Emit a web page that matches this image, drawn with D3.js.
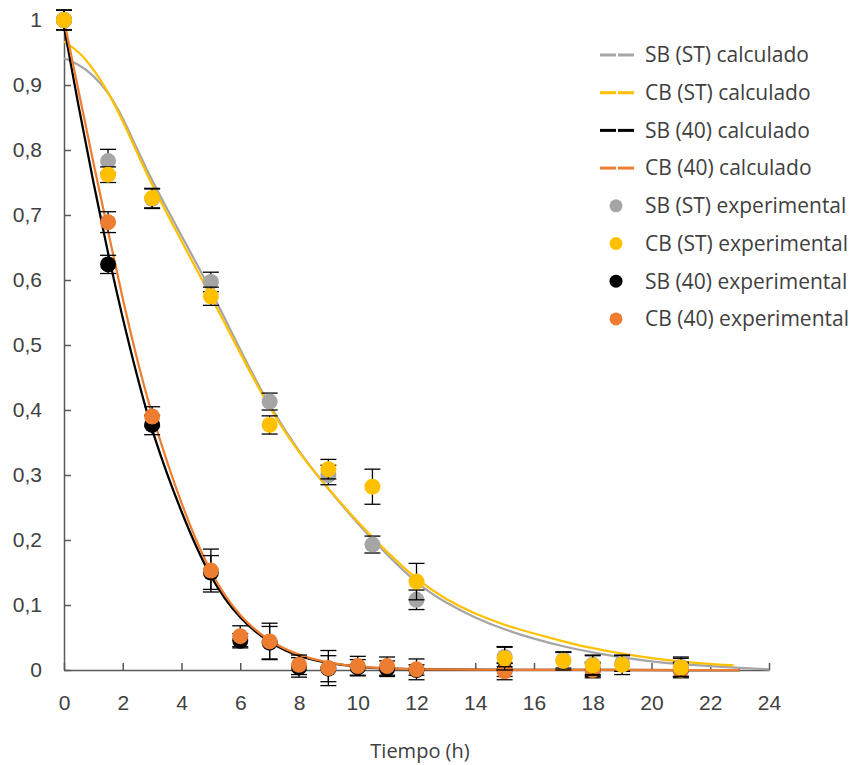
<!DOCTYPE html>
<html>
<head>
<meta charset="utf-8">
<script src="https://cdn.jsdelivr.net/npm/d3@7"></script>
<style>
  body { margin: 0; background: #fff; }
  svg { font-family: "Open Sans", Lato, sans-serif; }
  .axis path, .axis line { stroke: #595959; stroke-width: 1.5; }
  .axis text { fill: #404040; font-size: 21px; }
  .legend text { fill: #404040; font-size: 21px; }
</style>
</head>
<body>
<div id="chart"></div>
<script>

// experimental times (h)
const tST = [0, 1.5, 3, 5, 7, 9, 10.5, 12, 15, 17, 18, 19, 21];
const t40 = [0, 1.5, 3, 5, 6, 7, 8, 9, 10, 11, 12, 15, 18, 21];

// experimental values and error bars
const sbST = [1.0, 0.783, 0.725, 0.597, 0.413, 0.30, 0.193, 0.108, 0.02, 0.015, 0.008, 0.01, 0.005];
const sbSTErr = [0.015, 0.018, 0.015, 0.015, 0.013, 0.015, 0.013, 0.015, 0.015, 0.012, 0.015, 0.012, 0.015];
const cbST = [1.0, 0.762, 0.726, 0.575, 0.377, 0.309, 0.282, 0.136, 0.018, 0.014, 0.007, 0.008, 0.004];
const cbSTErr = [0.015, 0.012, 0.015, 0.014, 0.014, 0.015, 0.027, 0.028, 0.018, 0.014, 0.015, 0.015, 0.014];
const sb40 = [1.0, 0.624, 0.377, 0.15, 0.045, 0.042, 0.004, 0.002, 0.004, 0.002, 0.0, 0.0, 0.0, 0.0];
const sb40Err = [0.015, 0.014, 0.015, 0.026, 0.011, 0.025, 0.015, 0.02, 0.012, 0.012, 0.008, 0.01, 0.01, 0.01];
const cb40 = [1.0, 0.689, 0.39, 0.153, 0.052, 0.044, 0.008, 0.003, 0.006, 0.006, 0.001, -0.002, 0.0, 0.0];
const cb40Err = [0.015, 0.016, 0.015, 0.033, 0.016, 0.028, 0.015, 0.027, 0.015, 0.014, 0.016, 0.013, 0.012, 0.012];

// calculated curves
const tCalcSB = [0, 0.5, 1, 1.5, 2, 2.5, 3, 4, 5, 6, 7, 8, 9, 10, 11, 12, 13, 14, 15, 16, 17, 18, 19, 20, 21, 22, 23, 24];
const sbSTCalc = [0.941, 0.932, 0.915, 0.89, 0.85, 0.80, 0.752, 0.668, 0.585, 0.492, 0.405, 0.335, 0.278, 0.225, 0.177, 0.133, 0.103, 0.08, 0.062, 0.048, 0.036, 0.027, 0.019, 0.013, 0.009, 0.006, 0.003, 0.001];
const tCalcCB = [0, 0.5, 1, 1.5, 2, 2.5, 3, 4, 5, 6, 7, 8, 9, 10, 11, 12, 13, 14, 15, 16, 17, 18, 19, 20, 21, 22, 22.8];
const cbSTCalc = [0.967, 0.952, 0.925, 0.89, 0.845, 0.795, 0.745, 0.66, 0.575, 0.487, 0.402, 0.333, 0.279, 0.227, 0.181, 0.139, 0.108, 0.086, 0.069, 0.056, 0.044, 0.033, 0.025, 0.018, 0.013, 0.009, 0.007];
const tCalc40 = [0, 0.5, 1, 1.5, 2, 2.5, 3, 4, 5, 6, 7, 8, 9, 10, 11, 12, 14, 23];
const sb40Calc = [0.99, 0.865, 0.75, 0.64, 0.54, 0.45, 0.365, 0.24, 0.138, 0.077, 0.041, 0.02, 0.01, 0.005, 0.002, 0.001, 0, 0];
const cb40Calc = [1.0, 0.89, 0.78, 0.675, 0.57, 0.475, 0.39, 0.252, 0.145, 0.08, 0.043, 0.022, 0.011, 0.005, 0.002, 0.001, 0, 0];

const xTicks = d3.range(0, 25, 2);
const yTicks = d3.range(0, 1.01, 0.1);

const legendLabels = ['SB (ST) calculado', 'CB (ST) calculado', 'SB (40) calculado', 'CB (40) calculado',
  'SB (ST) experimental', 'CB (ST) experimental', 'SB (40) experimental', 'CB (40) experimental'];

const grey = '#a5a5a5', yellow = '#ffc000', black = '#000000', orange = '#ed7d31';

const width = 852, height = 765;
const margin = { top: 20, right: 83, bottom: 95, left: 64 };

const svg = d3.select('#chart').append('svg')
  .attr('width', width)
  .attr('height', height);

const x = d3.scaleLinear().domain([0, 24]).range([margin.left, width - margin.right]);
const y = d3.scaleLinear().domain([0, 1]).range([height - margin.bottom, margin.top]);

const comma = d3.formatLocale({ decimal: ',', thousands: '.', grouping: [3], currency: ['', ''] }).format('.1~f');

// axes
svg.append('g')
  .attr('class', 'axis')
  .attr('transform', `translate(0, ${y(0)})`)
  .call(d3.axisBottom(x).tickValues(xTicks).tickSize(-7).tickSizeOuter(0).tickPadding(25));

svg.append('g')
  .attr('class', 'axis')
  .attr('transform', `translate(${x(0)}, 0)`)
  .call(d3.axisLeft(y).tickValues(yTicks).tickFormat(comma).tickSize(-7).tickSizeOuter(0).tickPadding(22));

svg.append('text')
  .attr('x', 420)
  .attr('y', 758)
  .attr('text-anchor', 'middle')
  .attr('fill', '#404040')
  .style('font-size', '20px')
  .text('Tiempo (h)');

// calculated curves
const line = d3.line()
  .x(d => x(d[0]))
  .y(d => y(d[1]))
  .curve(d3.curveBasis);

const curves = [
  { t: tCalcSB, v: sbSTCalc, color: grey },
  { t: tCalcCB, v: cbSTCalc, color: yellow },
  { t: tCalc40, v: sb40Calc, color: black },
  { t: tCalc40, v: cb40Calc, color: orange }
];

svg.append('g').selectAll('path')
  .data(curves)
  .join('path')
  .attr('fill', 'none')
  .attr('stroke', d => d.color)
  .attr('stroke-width', 2.25)
  .attr('d', d => line(d3.zip(d.t, d.v)));

// experimental points with error bars
const pointSeries = [
  { t: t40, v: sb40, e: sb40Err, color: black },
  { t: t40, v: cb40, e: cb40Err, color: orange },
  { t: tST, v: sbST, e: sbSTErr, color: grey },
  { t: tST, v: cbST, e: cbSTErr, color: yellow }
];

pointSeries.forEach(s => {
  const pts = s.t.map((t, i) => ({ t: t, v: s.v[i], e: s.e[i] }));
  const g = svg.append('g');
  const bars = g.selectAll('g.err')
    .data(pts)
    .join('g')
    .attr('class', 'err')
    .attr('stroke', '#000')
    .attr('stroke-width', 1.3);
  bars.append('line')
    .attr('x1', d => x(d.t)).attr('x2', d => x(d.t))
    .attr('y1', d => y(d.v + d.e)).attr('y2', d => y(d.v - d.e));
  bars.append('line')
    .attr('x1', d => x(d.t) - 8).attr('x2', d => x(d.t) + 8)
    .attr('y1', d => y(d.v + d.e)).attr('y2', d => y(d.v + d.e));
  bars.append('line')
    .attr('x1', d => x(d.t) - 8).attr('x2', d => x(d.t) + 8)
    .attr('y1', d => y(d.v - d.e)).attr('y2', d => y(d.v - d.e));
  g.selectAll('circle')
    .data(pts)
    .join('circle')
    .attr('cx', d => x(d.t))
    .attr('cy', d => y(d.v))
    .attr('r', 8)
    .attr('fill', s.color);
});

// legend
const legendColors = [grey, yellow, black, orange, grey, yellow, black, orange];
const legend = svg.append('g').attr('class', 'legend');
const item = legend.selectAll('g')
  .data(legendLabels)
  .join('g')
  .attr('transform', (d, i) => `translate(600, ${55 + i * 37.7})`);

item.filter((d, i) => i < 4).each(function (d, i) {
  const g = d3.select(this);
  g.append('line').attr('x1', 0).attr('x2', 16).attr('stroke', legendColors[i]).attr('stroke-width', 3);
  g.append('line').attr('x1', 18).attr('x2', 34).attr('stroke', legendColors[i]).attr('stroke-width', 3);
});

item.filter((d, i) => i >= 4).append('circle')
  .attr('cx', 16)
  .attr('r', 6.5)
  .attr('fill', (d, i) => legendColors[i + 4]);

item.append('text')
  .attr('x', 45)
  .attr('dy', '0.35em')
  .text(d => d);

</script>
</body>
</html>
